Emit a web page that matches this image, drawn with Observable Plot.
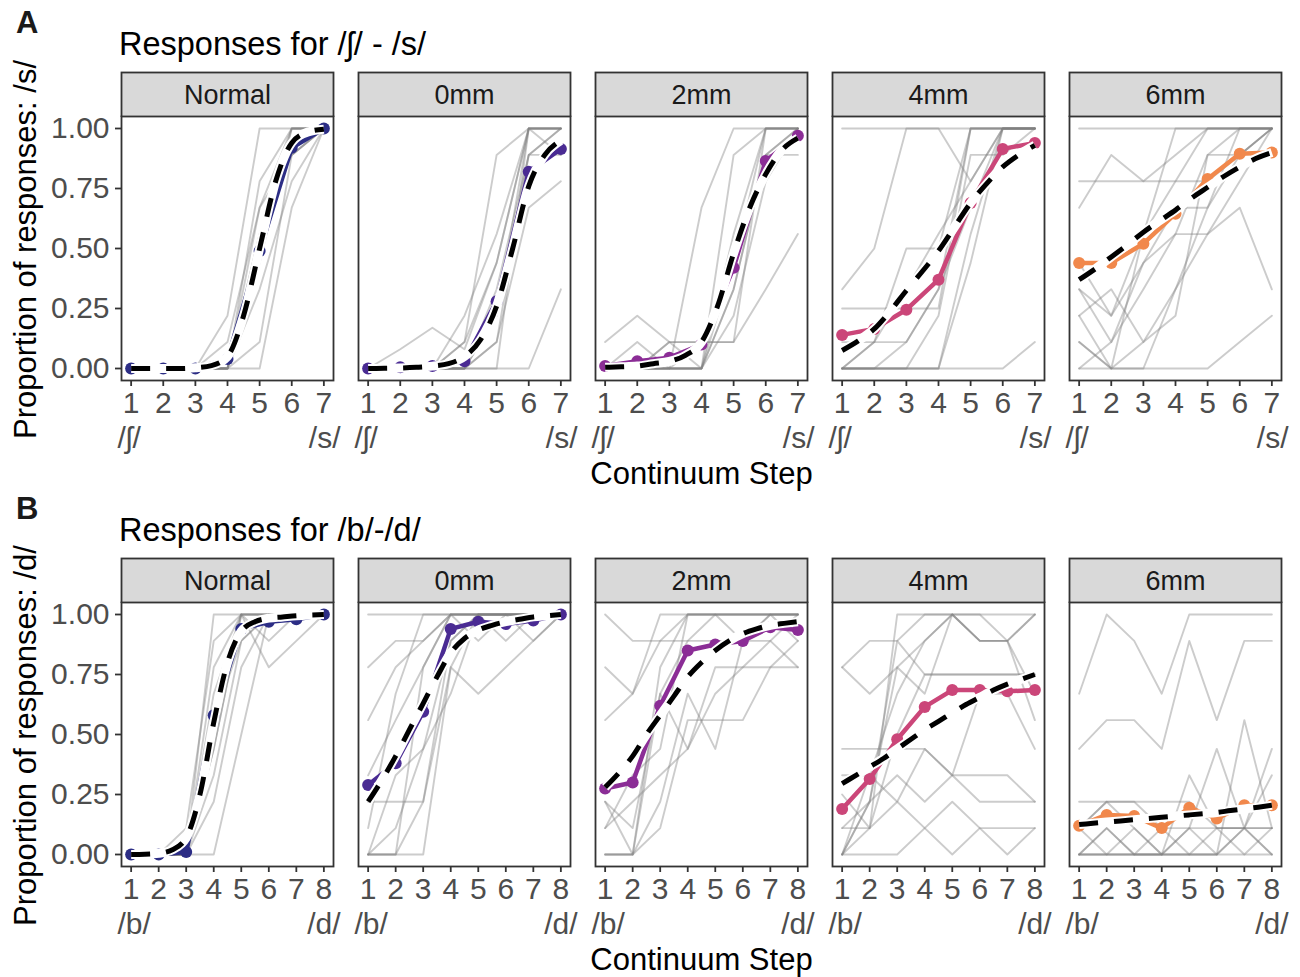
<!DOCTYPE html>
<html><head><meta charset="utf-8">
<script src="https://cdn.jsdelivr.net/npm/d3@7"></script>
<script src="https://cdn.jsdelivr.net/npm/@observablehq/plot@0.6"></script>
<style>
body{margin:0;background:#fff;font-family:"Liberation Sans",Arial,sans-serif;}
#root{position:relative;width:1300px;height:977px;overflow:hidden;background:#fff;}
.abs{position:absolute;white-space:nowrap;line-height:1;}
</style></head><body><div id="root"></div>
<script>
const conditions = ["Normal","0mm","2mm","4mm","6mm"];
const colors = ["#2c2d85","#4a2b93","#8b2d96","#cb4679","#f1884c"];
const yTicks = [0, 0.25, 0.5, 0.75, 1];
const stepsA = [1,2,3,4,5,6,7];
const stepsB = [1,2,3,4,5,6,7,8];
const fitStepsA = [1,1.5,2,2.5,3,3.5,4,4.5,5,5.5,6,6.5,7];
const fitStepsB = [1,1.5,2,2.5,3,3.5,4,4.5,5,5.5,6,6.5,7,7.5,8];
const phonA = ["/ʃ/","/s/"];
const phonB = ["/b/","/d/"];
const titleA = "Responses for /ʃ/ - /s/";
const titleB = "Responses for /b/-/d/";
const yLabelA = "Proportion of responses: /s/";
const yLabelB = "Proportion of responses: /d/";
const xLabel = "Continuum Step";

// group means (one row per condition)
const meanA = [
  [0,0,0,0.04,0.49,0.92,1.0],
  [0,0.005,0.01,0.03,0.28,0.82,0.915],
  [0.01,0.03,0.045,0.1,0.42,0.865,0.97],
  [0.14,0.165,0.245,0.37,0.69,0.915,0.94],
  [0.44,0.44,0.52,0.645,0.79,0.895,0.9]
];
const meanB = [
  [0,0,0.01,0.58,0.94,0.97,0.98,1.0],
  [0.29,0.38,0.595,0.94,0.97,0.96,0.975,1.0],
  [0.275,0.3,0.62,0.85,0.875,0.89,0.947,0.935],
  [0.19,0.315,0.48,0.615,0.685,0.685,0.68,0.685],
  [0.12,0.165,0.16,0.11,0.195,0.15,0.205,0.205]
];
// model fit (read at half steps)
const fitA = [
  [0,0,0,0,0.003,0.012,0.05,0.22,0.5,0.78,0.94,0.985,0.997],
  [0,0.001,0.002,0.005,0.01,0.02,0.05,0.12,0.26,0.5,0.76,0.89,0.95],
  [0.005,0.007,0.01,0.02,0.03,0.055,0.11,0.26,0.48,0.67,0.81,0.91,0.96],
  [0.075,0.115,0.165,0.24,0.325,0.405,0.49,0.59,0.69,0.77,0.84,0.89,0.93],
  [0.37,0.415,0.465,0.515,0.568,0.615,0.66,0.71,0.755,0.8,0.84,0.875,0.9]
];
const fitB = [
  [0,0.001,0.005,0.02,0.07,0.25,0.55,0.8,0.93,0.97,0.985,0.99,0.995,0.998,1],
  [0.22,0.31,0.41,0.52,0.63,0.74,0.84,0.9,0.935,0.955,0.97,0.98,0.99,0.995,1.0],
  [0.28,0.34,0.41,0.5,0.58,0.66,0.74,0.8,0.85,0.89,0.92,0.94,0.955,0.963,0.97],
  [0.295,0.33,0.365,0.4,0.44,0.48,0.52,0.555,0.59,0.625,0.655,0.685,0.71,0.73,0.75],
  [0.125,0.13,0.135,0.14,0.145,0.15,0.155,0.16,0.165,0.17,0.175,0.183,0.19,0.197,0.205]
];
// individual participants
const indivA_normal = [
  [0,0,0,0.22,1,1,1],[0,0,0,0,0,0.67,1],[0,0,0,0,0.11,0.89,1],[0,0,0,0,0.44,1,1],
  [0,0,0,0,0.56,1,1],[0,0,0,0.11,0.67,1,1],[0,0,0,0,0.67,0.89,1],[0,0,0,0,0.33,0.78,1],
  [0,0,0,0,0.78,1,1],[0,0,0,0,0.56,0.89,1]
];
const indivA_0mm = [
  [0,0.08,0.17,0.08,0.44,1,1],[0,0,0,0,0,1,1],[0,0,0,0.11,0.89,1,1],[0,0,0,0,0.33,0.89,1],
  [0,0,0,0,0.11,0.67,0.78],[0,0,0,0,0,0,0.33],[0,0,0,0.11,0.44,1,0.89],[0,0,0,0,0.22,1,1],
  [0,0,0,0.22,0.56,1,1],[0,0,0,0,0.11,0.89,1],[0,0,0,0,0.22,0.89,0.89]
];
const indivA_2mm = [
  [0.11,0.22,0.11,0,0.44,1,1],[0,0.11,0,0,0.33,0.89,1],[0,0,0.11,0.11,0.11,0.33,0.56],
  [0,0,0.11,0.11,0.11,1,1],[0,0,0,0.67,1,1,1],[0,0,0,0,0.89,1,1],[0,0,0,0,0.56,1,1],
  [0,0,0,0,0.22,0.78,1],[0,0,0,0,0.33,0.89,0.89],[0,0,0,0.11,0.44,0.89,1]
];
const indivA_4mm = [
  [1,1,1,1,0.78,1,1],[0.33,0.5,1,1,1,1,1],[0,0.11,0.5,0.5,1,1,1],[0.25,0.25,0.25,0.25,1,1,1],
  [0.11,0.11,0.11,0.33,1,1,1],[0,0,0.11,0.33,0.67,1,1],[0,0,0,0,0,0,0.11],[0,0,0,0,0.44,1,1],
  [0,0,0,0.22,0.89,0.89,1],[0,0.11,0.33,0.56,0.78,1,1],[0,0,0,0,0.56,1,1]
];
const indivA_6mm = [
  [1,1,1,1,1,1,1],[0.67,0.89,0.78,0.89,1,1,1],[0.78,0.78,0.78,0.78,1,1,1],
  [0.33,0.22,0.44,0.56,0.56,0.67,0.33],[0.11,0,0,0,0,0.11,0.22],[0.22,0.33,0.11,0.33,0.67,1,1],
  [0.33,0.11,0.44,0.67,0.67,0.89,1],[0.11,0,0,0.33,0.56,0.78,1],[0,0.11,0.33,0.56,0.89,1,1],
  [0.22,0,0.56,1,1,1,1],[0,0,0.11,0.22,0.89,0.89,1],[0.44,0.22,0.56,0.78,0.78,0.89,1]
];
const indivB_normal = [
  [0,0,0,1,1,1,1,1],[0,0,0,0,0.5,1,1,1],[0,0,0.11,0.89,1,0.89,1,1],[0,0,0,0.78,1,0.78,0.89,1],
  [0,0,0,0.44,1,1,1,1],[0,0,0,0.56,0.89,1,1,1],[0,0,0,0.67,1,1,1,1],[0,0,0,0.33,0.89,1,1,1],
  [0,0,0,0.22,0.78,1,1,1],[0,0,0,0.44,1,1,1,1]
];
const indivB_0mm = [
  [1,1,1,1,1,1,1,1],[0.78,0.89,0.89,1,0.89,1,1,1],[0.56,0.78,0.89,1,1,0.89,1,1],
  [0.33,0.56,0.78,1,1,1,1,1],[0,0.33,0.44,0.89,1,1,1,1],[0,0,0.22,0.78,0.67,0.78,0.89,1],
  [0.22,0.22,0.22,0.89,1,1,1,1],[0,0,0.78,1,1,1,0.89,1],[0,0.11,0.44,0.67,1,1,1,1],
  [0.11,0.67,1,1,1,1,1,1],[0,0,0,0.78,1,1,1,1]
];
const indivB_2mm = [
  [1,0.89,0.89,0.89,1,1,1,1],[0.78,0.67,1,1,1,1,1,1],[0.56,0.67,0.89,1,1,1,1,1],
  [0,0,0.78,1,1,1,1,1],[0,0,0.11,0.56,0.56,0.56,0.78,0.78],[0.22,0.11,0.67,0.44,0.67,0.78,0.78,0.89],
  [0.11,0.22,0.33,0.44,0.78,0.78,0.89,0.78],[0.22,0,0.22,0.67,0.44,0.89,1,1],
  [0,0,0.67,0.89,0.89,0.89,1,0.89],[0.11,0.33,0.44,1,1,0.89,0.89,1]
];
const indivB_4mm = [
  [0,0.22,0.78,0.89,1,1,0.89,1],[0.78,0.67,0.78,0.67,1,0.89,0.89,1],[0.78,0.89,0.89,1,1,1,1,1],
  [0,0.11,1,1,1,0.89,0.89,0.56],[0.44,0.44,0.44,0.44,0.33,0.67,0.67,0.44],
  [0.33,0.33,0.22,0.44,0.33,0.33,0.33,0.22],[0.11,0.11,0.22,0.11,0.22,0.11,0.11,0.11],
  [0,0,0,0.11,0,0.11,0,0.11],[0,0.22,0.89,0.75,0.75,0.75,0.75,0.75],
  [0.11,0.22,0.33,0.22,0.33,0.22,0.22,0.22],[0,0.33,0.67,0.89,1,0.89,0.89,0.67],
  [0.25,0.11,0.5,0.75,0.75,0.75,0.75,0.75]
];
const indivB_6mm = [
  [0.67,1,0.89,0.67,1,1,1,1],[0.44,0.56,0.56,0.44,0.89,0.56,0.89,0.89],
  [0.22,0.22,0.22,0.22,0.22,0.11,0.11,0.11],[0.11,0.22,0.22,0.11,0.11,0.11,0.11,0.11],
  [0,0.11,0,0,0.33,0.11,0.11,0.33],[0,0,0,0,0.11,0.44,0.11,0.44],[0,0,0,0,0,0,0.56,0.11],
  [0.11,0,0.11,0,0.11,0,0.11,0],[0,0.11,0,0.11,0,0.11,0,0.11],[0,0,0,0,0,0,0,0],
  [0.11,0.22,0.11,0,0,0,0.11,0]
];
const indivA = [indivA_normal, indivA_0mm, indivA_2mm, indivA_4mm, indivA_6mm];
const indivB = [indivB_normal, indivB_0mm, indivB_2mm, indivB_4mm, indivB_6mm];

const FONT = '"Liberation Sans", Arial, Helvetica, sans-serif';
const root = document.getElementById("root");

function addDiv(text, css) {
  const d = document.createElement("div");
  d.className = "abs";
  d.textContent = text;
  Object.assign(d.style, css);
  root.appendChild(d);
  return d;
}

function rowsFrom(matrix, steps) {
  const out = [];
  matrix.forEach((vals, ci) => vals.forEach((v, si) => out.push({cond: conditions[ci], step: steps[si], value: v})));
  return out;
}

function drawRow(o) {
  const T = o.top;
  addDiv(o.letter, {left: "16px", top: (T + 7) + "px", fontSize: "31px", fontWeight: "bold", color: "#1a1a1a"});
  addDiv(o.title, {left: "119px", top: (T + 28) + "px", fontSize: "32.5px", color: "#000"});
  addDiv(xLabel, {left: "120px", width: "1163px", textAlign: "center", top: (T + 458) + "px", fontSize: "31px", color: "#000"});
  addDiv(o.yLabel, {left: (25 - 250) + "px", width: "500px", textAlign: "center", top: (T + 249 - 15.5) + "px",
    fontSize: "31px", color: "#000", transform: "rotate(-90deg)", transformOrigin: "50% 50%"});

  const fxOpts = {domain: conditions, paddingInner: 0.105, paddingOuter: 0, axis: null};

  const strip = Plot.plot({
    width: 1300, height: 46, marginTop: 1, marginBottom: 0, marginLeft: 120, marginRight: 17,
    style: {fontFamily: FONT, background: "transparent"},
    fx: fxOpts,
    marks: [
      Plot.frame({fill: "#d9d9d9", stroke: "#333", strokeWidth: 1.8}),
      Plot.text(conditions, {fx: d => d, text: d => d, frameAnchor: "middle", fontSize: 27, fill: "#1a1a1a"})
    ]
  });
  Object.assign(strip.style, {position: "absolute", left: "0px", top: (T + 71) + "px"});
  root.appendChild(strip);

  const indivRows = [];
  o.indiv.forEach((parts, ci) => parts.forEach((vals, pi) => vals.forEach((v, si) =>
    indivRows.push({cond: conditions[ci], pid: ci + "-" + pi, step: o.steps[si], value: v}))));
  const meanRows = rowsFrom(o.means, o.steps);
  const fitRows = rowsFrom(o.fits, o.fitSteps);
  const phonRows = conditions.map(c => ({cond: c, left: o.phon[0], right: o.phon[1]}));
  const n = o.steps.length;
  const pad = (n - 1) * 0.05;

  const main = Plot.plot({
    width: 1300, height: 379, marginTop: 5, marginBottom: 110, marginLeft: 120, marginRight: 17,
    style: {fontFamily: FONT, fontSize: "30px", background: "transparent", overflow: "visible"},
    fx: fxOpts,
    x: {domain: [1 - pad, n + pad]},
    y: {domain: [-0.05, 1.05]},
    color: {domain: conditions, range: colors},
    marks: [
      Plot.line(indivRows, {fx: "cond", x: "step", y: "value", z: "pid", stroke: "#7f7f7f", strokeOpacity: 0.4, strokeWidth: 1.9}),
      Plot.line(meanRows, {fx: "cond", x: "step", y: "value", stroke: "cond", strokeWidth: 4.5}),
      Plot.dot(meanRows, {fx: "cond", x: "step", y: "value", fill: "cond", r: 6}),
      Plot.line(fitRows, {fx: "cond", x: "step", y: "value", stroke: "white", strokeWidth: 9, strokeLinecap: "butt", curve: "monotone-x"}),
      Plot.line(fitRows, {fx: "cond", x: "step", y: "value", stroke: "black", strokeWidth: 5, strokeLinecap: "butt", strokeDasharray: "19,16", curve: "monotone-x"}),
      Plot.frame({stroke: "#333", strokeWidth: 1.8}),
      Plot.axisX(o.steps, {tickSize: 6, tickPadding: 5, stroke: "#333", strokeWidth: 1.8, fill: "#4d4d4d", tickFormat: d => d, label: null}),
      Plot.axisY(yTicks, {tickSize: 6, tickPadding: 6, stroke: "#333", strokeWidth: 1.8, fill: "#4d4d4d", tickFormat: d => d.toFixed(2), label: null}),
      Plot.text(phonRows, {fx: "cond", frameAnchor: "bottom-left", text: "left", textAnchor: "start", lineAnchor: "middle", dy: 58, dx: -4, fill: "#4d4d4d", fontSize: 30}),
      Plot.text(phonRows, {fx: "cond", frameAnchor: "bottom-right", text: "right", textAnchor: "end", lineAnchor: "middle", dy: 58, dx: 7, fill: "#4d4d4d", fontSize: 30})
    ]
  });
  Object.assign(main.style, {position: "absolute", left: "0px", top: (T + 111) + "px"});
  root.appendChild(main);
}

drawRow({top: 0, letter: "A", title: titleA, yLabel: yLabelA, steps: stepsA, fitSteps: fitStepsA,
  means: meanA, fits: fitA, indiv: indivA, phon: phonA});
drawRow({top: 486, letter: "B", title: titleB, yLabel: yLabelB, steps: stepsB, fitSteps: fitStepsB,
  means: meanB, fits: fitB, indiv: indivB, phon: phonB});
</script></body></html>
